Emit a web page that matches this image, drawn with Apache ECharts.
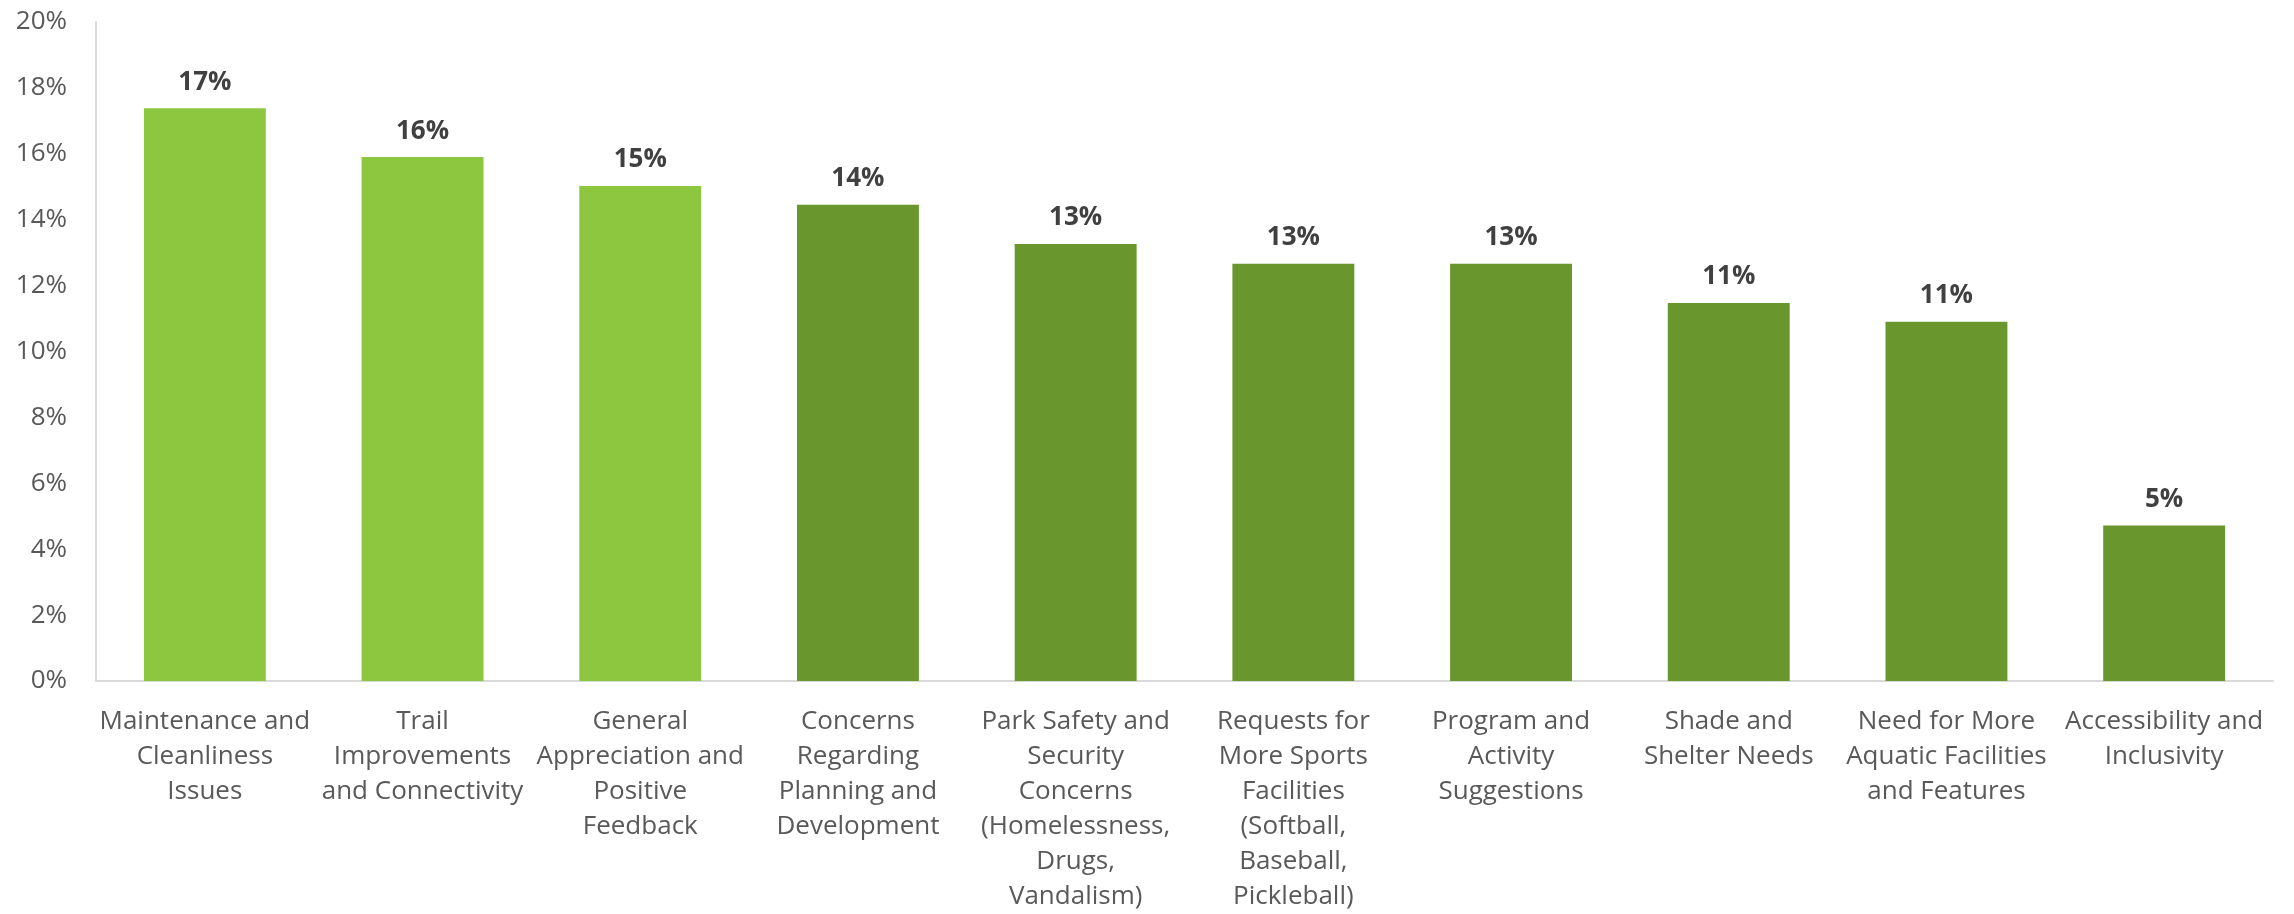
<!DOCTYPE html>
<html>
<head>
<meta charset="utf-8">
<title>Top Themes in Community Comments</title>
<script src="https://cdn.jsdelivr.net/npm/echarts@6/dist/echarts.min.js"></script>
<style>
  html, body { margin: 0; padding: 0; background: #ffffff; overflow: hidden; }
  #chart { width: 2294px; height: 914px; }
</style>
</head>
<body>
<div id="chart"></div>
<script>
// Comment themes (line breaks give the wrapped axis labels)
const categories = [
  "Maintenance and\nCleanliness\nIssues",
  "Trail\nImprovements\nand Connectivity",
  "General\nAppreciation and\nPositive\nFeedback",
  "Concerns\nRegarding\nPlanning and\nDevelopment",
  "Park Safety and\nSecurity\nConcerns\n(Homelessness,\nDrugs,\nVandalism)",
  "Requests for\nMore Sports\nFacilities\n(Softball,\nBaseball,\nPickleball)",
  "Program and\nActivity\nSuggestions",
  "Shade and\nShelter Needs",
  "Need for More\nAquatic Facilities\nand Features",
  "Accessibility and\nInclusivity"
];

// Share of comments mentioning each theme (%)
const shares = [17.38, 15.9, 15.02, 14.45, 13.26, 12.66, 12.66, 11.47, 10.9, 4.72];

// Top three themes are highlighted
const highlighted = [true, true, true, false, false, false, false, false, false, false];

const LIGHT_GREEN = "#8DC63F";
const DARK_GREEN = "#6A962E";

const chart = echarts.init(document.getElementById("chart"));

chart.setOption({
  animation: false,
  backgroundColor: "#ffffff",
  textStyle: { fontFamily: "Open Sans" },
  grid: { left: 96, right: 21, top: 22, bottom: 232, containLabel: false },
  xAxis: {
    type: "category",
    data: categories,
    axisLine: { show: true, lineStyle: { color: "#d9d9d9", width: 2 } },
    axisTick: { show: false },
    axisLabel: {
      interval: 0,
      margin: 23,
      color: "#595959",
      fontSize: 26,
      lineHeight: 35,
      fontFamily: "Open Sans",
      align: "center"
    }
  },
  yAxis: {
    type: "value",
    min: 0,
    max: 20,
    interval: 2,
    axisLine: { show: true, lineStyle: { color: "#d9d9d9", width: 2 } },
    axisTick: { show: false },
    splitLine: { show: false },
    axisLabel: {
      margin: 29,
      color: "#595959",
      fontSize: 26,
      fontFamily: "Open Sans",
      formatter: "{value}%"
    }
  },
  series: [{
    type: "bar",
    barCategoryGap: "44%",
    data: shares.map((v, i) => ({
      value: v,
      itemStyle: { color: highlighted[i] ? LIGHT_GREEN : DARK_GREEN }
    })),
    label: {
      show: true,
      position: "top",
      distance: 13,
      color: "#404040",
      fontSize: 26,
      fontWeight: "bold",
      fontFamily: "Open Sans",
      formatter: (p) => Math.round(p.value) + "%"
    }
  }]
});
</script>
</body>
</html>
